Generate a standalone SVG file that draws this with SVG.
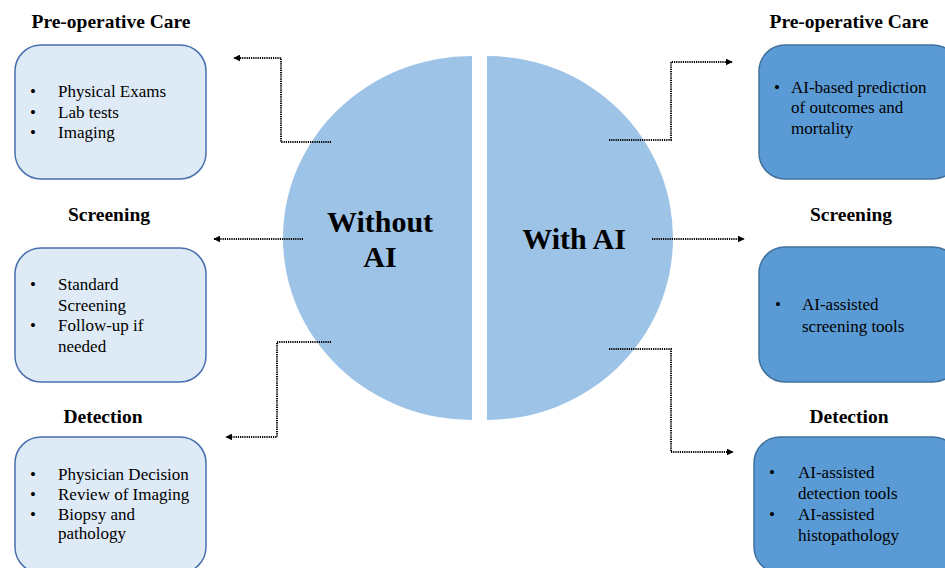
<svg xmlns="http://www.w3.org/2000/svg" width="945" height="568" viewBox="0 0 945 568">
  <style>
    .title { font-family: "Liberation Serif", "Times New Roman", serif; font-weight: bold; font-size: 19.5px; fill: #000; text-anchor: middle; }
    .big { font-family: "Liberation Serif", "Times New Roman", serif; font-weight: bold; font-size: 30px; fill: #000; text-anchor: middle; }
    .item { font-family: "Liberation Serif", "Times New Roman", serif; font-size: 17px; fill: #000; }
    .boxL { fill: #DEEBF7; stroke: #4A6FAE; stroke-width: 1.5; }
    .boxR { fill: #5B9BD5; stroke: #41719C; stroke-width: 1.5; }
    .half { fill: #9DC3E6; }
    .conn { fill: none; stroke: #000; stroke-width: 2; stroke-dasharray: 1.2 1; }
  </style>
  <defs>
    <marker id="arrow" viewBox="0 0 10 10" refX="9" refY="5" markerWidth="7" markerHeight="7" markerUnits="userSpaceOnUse" orient="auto">
      <path d="M0,0 L10,5 L0,10 z" fill="#000"/>
    </marker>
  </defs>

  <!-- split circle -->
  <g id="without-ai">
    <path class="half" d="M472,56 A189,182 0 0 0 472,420 Z"/>
    <text class="big" x="380" y="232">Without</text>
    <text class="big" x="380" y="267">AI</text>
  </g>
  <g id="with-ai">
    <path class="half" d="M487,56 A186,182 0 0 1 487,420 Z"/>
    <text class="big" x="574" y="249">With AI</text>
  </g>

  <!-- connectors -->
  <g id="connectors">
    <path class="conn" d="M331,142 H281 V58 H234" marker-end="url(#arrow)"/>
    <path class="conn" d="M303,239 H214" marker-end="url(#arrow)"/>
    <path class="conn" d="M331,342 H277 V437 H226" marker-end="url(#arrow)"/>
    <path class="conn" d="M609,140 H671 V62 H732" marker-end="url(#arrow)"/>
    <path class="conn" d="M652,239 H744" marker-end="url(#arrow)"/>
    <path class="conn" d="M609,349 H671 V452 H733" marker-end="url(#arrow)"/>
  </g>

  <!-- left column -->
  <g id="left-preop">
    <text class="title" x="111" y="28">Pre-operative Care</text>
    <rect class="boxL" x="15" y="45" width="191" height="134" rx="26"/>
    <text class="item" x="30" y="97">•</text><text class="item" x="58" y="97">Physical Exams</text>
    <text class="item" x="30" y="118">•</text><text class="item" x="58" y="118">Lab tests</text>
    <text class="item" x="30" y="138">•</text><text class="item" x="58" y="138">Imaging</text>
  </g>
  <g id="left-screening">
    <text class="title" x="109" y="221">Screening</text>
    <rect class="boxL" x="15" y="248" width="191" height="134" rx="26"/>
    <text class="item" x="30" y="290">•</text><text class="item" x="58" y="290">Standard</text>
    <text class="item" x="58" y="311">Screening</text>
    <text class="item" x="30" y="331">•</text><text class="item" x="58" y="331">Follow-up if</text>
    <text class="item" x="58" y="352">needed</text>
  </g>
  <g id="left-detection">
    <text class="title" x="103" y="423">Detection</text>
    <rect class="boxL" x="15" y="437" width="191" height="136" rx="26"/>
    <text class="item" x="30" y="480">•</text><text class="item" x="58" y="480">Physician Decision</text>
    <text class="item" x="30" y="500">•</text><text class="item" x="58" y="500">Review of Imaging</text>
    <text class="item" x="30" y="520">•</text><text class="item" x="58" y="520">Biopsy and</text>
    <text class="item" x="58" y="539">pathology</text>
  </g>

  <!-- right column -->
  <g id="right-preop">
    <text class="title" x="849" y="28">Pre-operative Care</text>
    <rect class="boxR" x="759" y="45" width="200" height="134" rx="26"/>
    <text class="item" x="774" y="93">•</text><text class="item" x="791" y="93">AI-based prediction</text>
    <text class="item" x="791" y="113">of outcomes and</text>
    <text class="item" x="791" y="134">mortality</text>
  </g>
  <g id="right-screening">
    <text class="title" x="851" y="221">Screening</text>
    <rect class="boxR" x="759" y="247" width="200" height="135" rx="26"/>
    <text class="item" x="775" y="310">•</text><text class="item" x="802" y="310">AI-assisted</text>
    <text class="item" x="802" y="332">screening tools</text>
  </g>
  <g id="right-detection">
    <text class="title" x="849" y="423">Detection</text>
    <rect class="boxR" x="754" y="437" width="205" height="136" rx="26"/>
    <text class="item" x="769" y="478">•</text><text class="item" x="798" y="478">AI-assisted</text>
    <text class="item" x="798" y="499">detection tools</text>
    <text class="item" x="769" y="520">•</text><text class="item" x="798" y="520">AI-assisted</text>
    <text class="item" x="798" y="541">histopathology</text>
  </g>
</svg>
